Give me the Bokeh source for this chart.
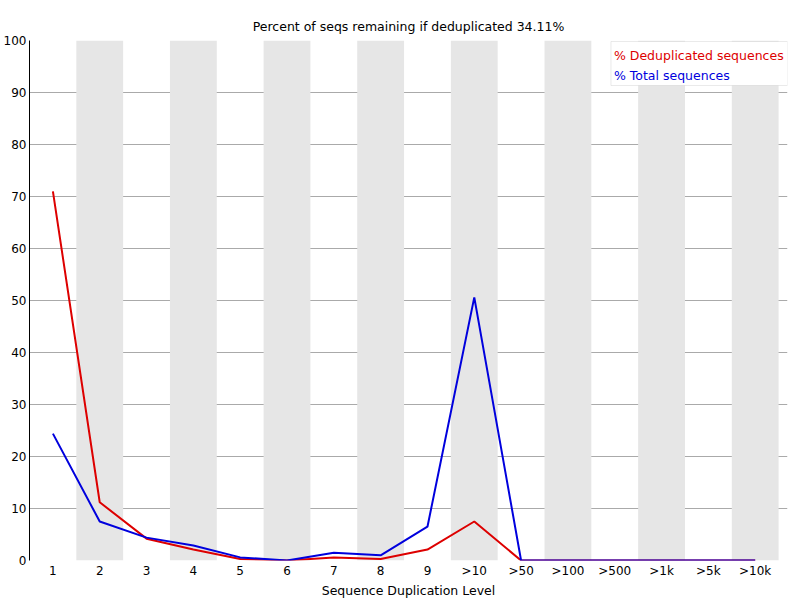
from bokeh.plotting import figure
from bokeh.models import FixedTicker, Label, BoxAnnotation
from bokeh.embed import file_html
from bokeh.resources import INLINE

levels = ["1", "2", "3", "4", "5", "6", "7", "8", "9", ">10", ">50", ">100", ">500", ">1k", ">5k", ">10k"]
dedup = [71.0, 11.2, 4.2, 2.1, 0.3, 0.0, 0.6, 0.3, 2.1, 7.5, 0.0, 0.0, 0.0, 0.0, 0.0, 0.0]
total = [24.4, 7.5, 4.4, 2.9, 0.6, 0.0, 1.5, 1.0, 6.5, 50.6, 0.0, 0.0, 0.0, 0.0, 0.0, 0.0]
y_ticks = [0, 10, 20, 30, 40, 50, 60, 70, 80, 90, 100]
title_text = "Percent of seqs remaining if deduplicated 34.11%"
xlabel = "Sequence Duplication Level"
legend_labels = ["% Deduplicated sequences", "% Total sequences"]

FONT = "DejaVu Sans"
RED = "#dd0000"
BLUE = "#0000dd"

xs = list(range(len(levels)))

p = figure(frame_width=758, frame_height=520, output_backend="svg", toolbar_location=None,
           x_range=(-0.5, 15.69), y_range=(0, 100),
           min_border_left=0, min_border_right=2, min_border_top=40, min_border_bottom=38)
p.title.text = title_text
p.title.align = "center"
p.title.text_font = FONT
p.title.text_font_size = "12.5px"
p.title.text_font_style = "normal"
p.title.text_color = "black"
p.title.standoff = 13

# alternating bands
band_x = [x for x in xs if x % 2 == 1]
p.vbar(x=band_x, width=1, top=100, bottom=0, color="#e6e6e6", line_color=None)

p.line(xs, dedup, line_color=RED, line_width=2)
p.line(xs, total, line_color=BLUE, line_width=2)

p.xgrid.grid_line_color = None
p.ygrid.grid_line_color = "#aaaaaa"
p.ygrid.ticker = FixedTicker(ticks=y_ticks)
p.ygrid.level = "underlay"
p.outline_line_color = None

p.yaxis.ticker = FixedTicker(ticks=y_ticks)
p.yaxis.axis_line_color = "black"
p.yaxis.major_tick_line_color = None
p.yaxis.minor_tick_line_color = None
p.yaxis.major_tick_out = 0
p.yaxis.major_tick_in = 0
p.yaxis.minor_tick_out = 0
p.yaxis.major_label_standoff = 3
p.yaxis.major_label_text_font = FONT
p.yaxis.major_label_text_font_size = "12px"
p.yaxis.major_label_text_color = "black"

p.xaxis.ticker = FixedTicker(ticks=xs)
p.xaxis.major_label_overrides = {i: l for i, l in enumerate(levels)}
p.xaxis.axis_line_color = None
p.xaxis.major_tick_line_color = None
p.xaxis.minor_tick_line_color = None
p.xaxis.major_tick_out = 0
p.xaxis.major_tick_in = 0
p.xaxis.minor_tick_out = 0
p.xaxis.major_label_standoff = 3
p.xaxis.major_label_text_font = FONT
p.xaxis.major_label_text_font_size = "12px"
p.xaxis.major_label_text_color = "black"
p.xaxis.axis_label = xlabel
p.xaxis.axis_label_text_font = FONT
p.xaxis.axis_label_text_font_size = "12.5px"
p.xaxis.axis_label_text_font_style = "normal"
p.xaxis.axis_label_text_color = "black"
p.xaxis.axis_label_standoff = 2

# legend box (data units, positions taken relative to the reference frame)
def xd(pix):
    return -0.5 + (pix - 30) / 760 * 16.19
def yd(pix):
    return (560 - pix) / 5.2

box = BoxAnnotation(left=xd(613), right=xd(790), top=yd(41), bottom=yd(85),
                    fill_color="white", fill_alpha=1.0, line_color="#bbbbbb", line_width=1)
p.add_layout(box)
p.add_layout(Label(x=xd(616), y=yd(55), text=legend_labels[0], text_color=RED,
                   text_font=FONT, text_font_size="12.5px", text_baseline="middle"))
p.add_layout(Label(x=xd(616), y=yd(75), text=legend_labels[1], text_color=BLUE,
                   text_font=FONT, text_font_size="12.5px", text_baseline="middle"))

open("out.html", "w").write(file_html(p, INLINE))
